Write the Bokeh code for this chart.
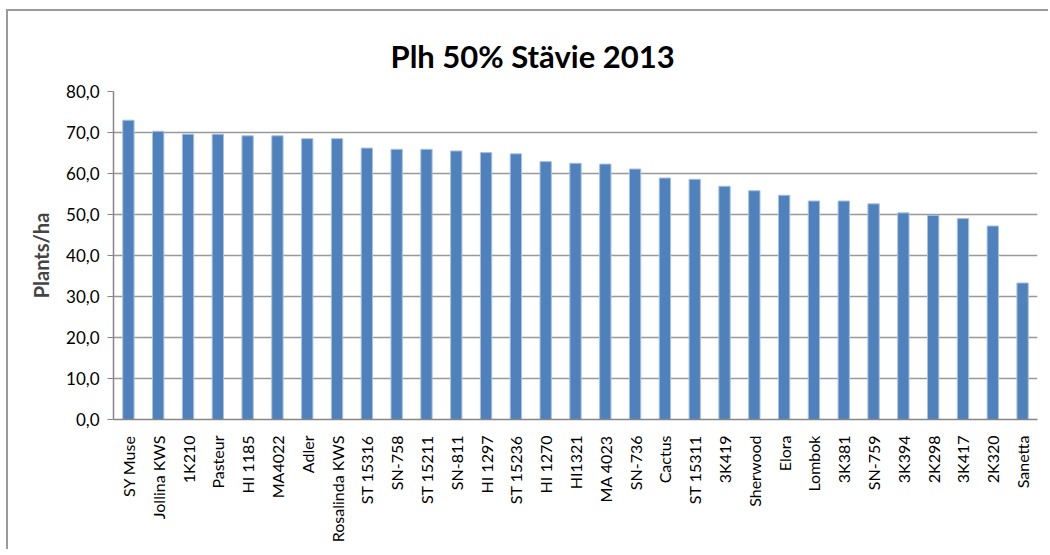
from bokeh.plotting import figure
from bokeh.models import Range1d, FixedTicker
from bokeh.embed import file_html
from bokeh.resources import INLINE
import math

categories = ["SY Muse", "Jollina KWS", "1K210", "Pasteur", "HI 1185", "MA4022", "Adler",
              "Rosalinda KWS", "ST 15316", "SN-758", "ST 15211", "SN-811", "HI 1297",
              "ST 15236", "HI 1270", "HI1321", "MA 4023", "SN-736", "Cactus", "ST 15311",
              "3K419", "Sherwood", "Elora", "Lombok", "3K381", "SN-759", "3K394", "2K298",
              "3K417", "2K320", "Sanetta"]
values = [73.0, 70.3, 69.6, 69.6, 69.2, 69.2, 68.5, 68.5, 66.2, 65.9, 65.9, 65.5, 65.1,
          64.8, 62.9, 62.5, 62.3, 61.1, 58.9, 58.6, 56.9, 55.8, 54.7, 53.3, 53.3, 52.6,
          50.4, 49.8, 49.0, 47.2, 33.3]
y_ticks = [0, 10, 20, 30, 40, 50, 60, 70, 80]
y_tick_labels = ["0,0", "10,0", "20,0", "30,0", "40,0", "50,0", "60,0", "70,0", "80,0"]
title_text = "Plh 50% Stävie 2013"
y_title = "Plants/ha"

FONT = "Lato"

p = figure(x_range=categories, y_range=Range1d(0, 80),
           width=1042, height=540, margin=(9, 0, 0, 6),
           output_backend="svg", toolbar_location=None,
           min_border_left=105, min_border_right=13, min_border_top=80, min_border_bottom=132)
p.styles = {"border-left": "2px solid #9a9a9a", "border-top": "2px solid #9a9a9a"}

p.vbar(x=categories, top=values, width=0.38, fill_color="#4F81BD",
       line_color="#a9c1e0", line_width=1)

p.title.text = title_text
p.title.text_font = FONT
p.title.text_font_style = "bold"
p.title.text_font_size = "31px"
p.title.text_color = "#000000"
p.title.align = "left"
p.title.offset = 277
p.title.standoff = 34

p.outline_line_color = None
p.background_fill_color = "white"
p.border_fill_color = "white"

p.xgrid.grid_line_color = None
p.ygrid.grid_line_color = "#999999"
p.ygrid.grid_line_width = 1.3
p.ygrid.ticker = FixedTicker(ticks=y_ticks)

p.yaxis.ticker = FixedTicker(ticks=y_ticks)
p.yaxis.major_label_overrides = {t: l for t, l in zip(y_ticks, y_tick_labels)}
p.yaxis.axis_label = y_title
p.yaxis.axis_label_text_font = FONT
p.yaxis.axis_label_text_font_style = "bold"
p.yaxis.axis_label_text_font_size = "20px"
p.yaxis.axis_label_standoff = 10
p.yaxis.major_label_text_font = FONT
p.yaxis.major_label_text_font_size = "17px"
p.yaxis.major_label_text_color = "#000000"
p.yaxis.axis_line_color = "#868686"
p.yaxis.axis_line_width = 1.5
p.yaxis.major_tick_line_color = "#868686"
p.yaxis.major_tick_out = 6
p.yaxis.major_tick_in = 0
p.yaxis.minor_tick_line_color = None
p.yaxis.major_label_standoff = 8

p.xaxis.major_label_orientation = math.pi / 2
p.xaxis.major_label_text_font = FONT
p.xaxis.major_label_text_font_size = "16px"
p.xaxis.major_label_text_color = "#000000"
p.xaxis.axis_line_color = "#868686"
p.xaxis.axis_line_width = 1.5
p.xaxis.major_tick_line_color = None
p.xaxis.major_label_standoff = 10
p.x_range.range_padding = 0

open("out.html", "w").write(file_html(p, INLINE))
